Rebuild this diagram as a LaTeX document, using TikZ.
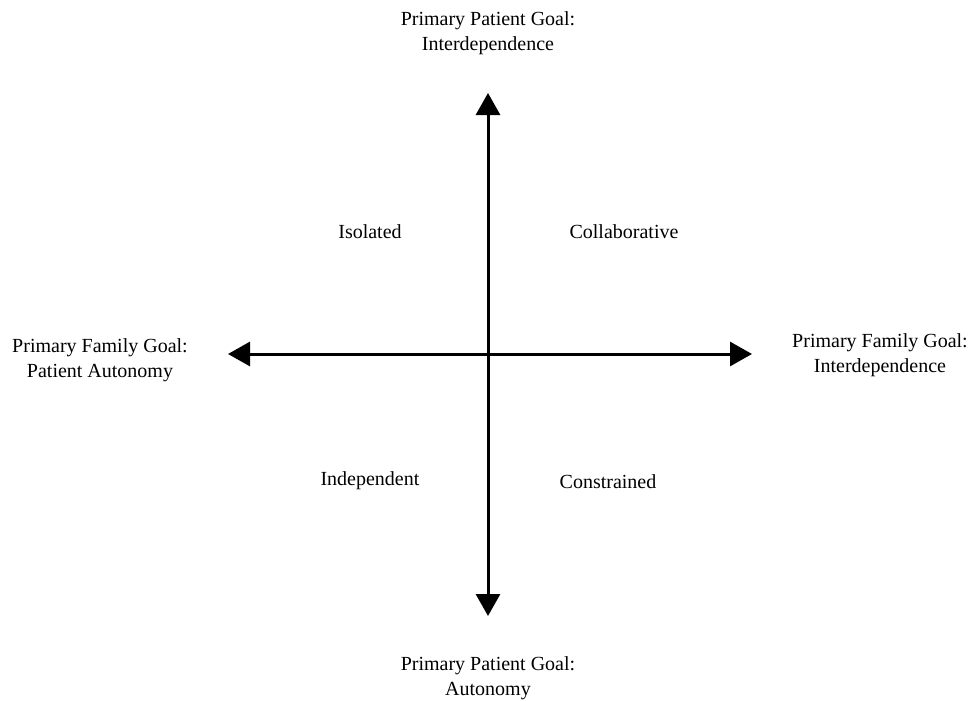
\documentclass[tikz,border=0pt]{standalone}
\usepackage{fontspec}
\setmainfont{Liberation Serif}
\usetikzlibrary{arrows.meta}
\begin{document}
\begin{tikzpicture}[x=1pt,y=-1pt,
  lbl/.style={align=center,font=\fontsize{20}{25}\selectfont,inner sep=0pt},
  axis/.style={line width=3pt,{Triangle[width=24pt,length=22pt]}-{Triangle[width=24pt,length=22pt]}}]
\useasboundingbox (0,0) rectangle (970,701);
\coordinate (top) at (488,93);
\coordinate (bot) at (488,616);
\coordinate (lft) at (228,354);
\coordinate (rgt) at (752,354);
\draw[axis] (bot) -- (top);
\draw[axis] (lft) -- (rgt);
\node[lbl] (tl) at (488,33) {Primary Patient Goal:\\Interdependence};
\node[lbl] (bl) at (488,678) {Primary Patient Goal:\\Autonomy};
\node[lbl] (ll) at (100,360) {Primary Family Goal:\\Patient Autonomy};
\node[lbl] (rl) at (880,355) {Primary Family Goal:\\Interdependence};
\node[lbl] (q1) at (370,232) {Isolated};
\node[lbl] (q2) at (624,232) {Collaborative};
\node[lbl] (q3) at (370,481) {Independent};
\node[lbl] (q4) at (608,482) {Constrained};
\end{tikzpicture}
\end{document}
